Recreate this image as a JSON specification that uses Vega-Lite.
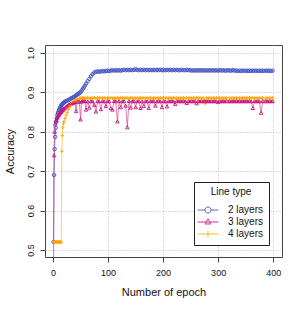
{
  "$schema": "https://vega.github.io/schema/vega-lite/v6.json",
  "width": 237,
  "height": 212,
  "autosize": "none",
  "padding": {"left": 45, "top": 45, "right": 23, "bottom": 57},
  "config": {
    "font": "Liberation Sans",
    "view": {"stroke": "#444444", "strokeWidth": 1}
  },
  "data": {"values": [
    {"e":1,"a":0.52,"b":0.40,"c":0.52},
    {"e":2,"a":0.69,"b":0.74,"c":0.52},
    {"e":3,"a":0.756,"b":0.80,"c":0.52},
    {"e":4,"a":0.787,"b":0.82,"c":0.52},
    {"e":5,"a":0.81,"b":0.826,"c":0.52},
    {"e":6,"a":0.825,"b":0.83,"c":0.52},
    {"e":7,"a":0.835,"b":0.834,"c":0.52},
    {"e":8,"a":0.842,"b":0.837,"c":0.52},
    {"e":9,"a":0.847,"b":0.84,"c":0.52},
    {"e":10,"a":0.851,"b":0.842,"c":0.52},
    {"e":11,"a":0.855,"b":0.844,"c":0.52},
    {"e":12,"a":0.858,"b":0.846,"c":0.52},
    {"e":13,"a":0.861,"b":0.848,"c":0.52},
    {"e":14,"a":0.864,"b":0.85,"c":0.52},
    {"e":15,"a":0.866,"b":0.851,"c":0.52},
    {"e":16,"a":0.868,"b":0.853,"c":0.75},
    {"e":17,"a":0.87,"b":0.855,"c":0.79},
    {"e":18,"a":0.872,"b":0.856,"c":0.81},
    {"e":19,"a":0.873,"b":0.858,"c":0.82},
    {"e":20,"a":0.874,"b":0.859,"c":0.826},
    {"e":22,"a":0.876,"b":0.861,"c":0.834},
    {"e":24,"a":0.878,"b":0.864,"c":0.842},
    {"e":26,"a":0.879,"b":0.866,"c":0.849},
    {"e":28,"a":0.88,"b":0.868,"c":0.856},
    {"e":30,"a":0.882,"b":0.869,"c":0.862},
    {"e":32,"a":0.884,"b":0.871,"c":0.867},
    {"e":34,"a":0.885,"b":0.872,"c":0.871},
    {"e":36,"a":0.887,"b":0.873,"c":0.875},
    {"e":38,"a":0.888,"b":0.874,"c":0.878},
    {"e":40,"a":0.89,"b":0.875,"c":0.88},
    {"e":42,"a":0.892,"b":0.852,"c":0.882},
    {"e":44,"a":0.894,"b":0.876,"c":0.883},
    {"e":46,"a":0.896,"b":0.877,"c":0.875},
    {"e":48,"a":0.898,"b":0.876,"c":0.885},
    {"e":50,"a":0.90,"b":0.831,"c":0.885},
    {"e":52,"a":0.904,"b":0.877,"c":0.885},
    {"e":54,"a":0.908,"b":0.878,"c":0.886},
    {"e":56,"a":0.912,"b":0.877,"c":0.885},
    {"e":58,"a":0.917,"b":0.878,"c":0.886},
    {"e":60,"a":0.922,"b":0.856,"c":0.885},
    {"e":63,"a":0.928,"b":0.877,"c":0.886},
    {"e":66,"a":0.934,"b":0.861,"c":0.885},
    {"e":69,"a":0.941,"b":0.878,"c":0.886},
    {"e":72,"a":0.946,"b":0.877,"c":0.885},
    {"e":75,"a":0.950,"b":0.868,"c":0.886},
    {"e":78,"a":0.952,"b":0.851,"c":0.885},
    {"e":81,"a":0.953,"b":0.878,"c":0.886},
    {"e":84,"a":0.952,"b":0.877,"c":0.885},
    {"e":87,"a":0.953,"b":0.857,"c":0.886},
    {"e":90,"a":0.954,"b":0.878,"c":0.885},
    {"e":93,"a":0.953,"b":0.877,"c":0.886},
    {"e":96,"a":0.954,"b":0.865,"c":0.885},
    {"e":99,"a":0.955,"b":0.878,"c":0.886},
    {"e":102,"a":0.954,"b":0.877,"c":0.885},
    {"e":105,"a":0.955,"b":0.86,"c":0.886},
    {"e":108,"a":0.956,"b":0.856,"c":0.885},
    {"e":111,"a":0.955,"b":0.878,"c":0.886},
    {"e":114,"a":0.956,"b":0.877,"c":0.885},
    {"e":117,"a":0.955,"b":0.826,"c":0.886},
    {"e":120,"a":0.956,"b":0.878,"c":0.885},
    {"e":123,"a":0.955,"b":0.862,"c":0.886},
    {"e":126,"a":0.956,"b":0.877,"c":0.885},
    {"e":129,"a":0.957,"b":0.878,"c":0.886},
    {"e":132,"a":0.956,"b":0.866,"c":0.885},
    {"e":135,"a":0.957,"b":0.811,"c":0.886},
    {"e":138,"a":0.956,"b":0.878,"c":0.885},
    {"e":141,"a":0.957,"b":0.861,"c":0.886},
    {"e":144,"a":0.956,"b":0.877,"c":0.885},
    {"e":147,"a":0.957,"b":0.878,"c":0.886},
    {"e":150,"a":0.958,"b":0.862,"c":0.885},
    {"e":153,"a":0.957,"b":0.877,"c":0.886},
    {"e":156,"a":0.956,"b":0.878,"c":0.885},
    {"e":159,"a":0.957,"b":0.86,"c":0.886},
    {"e":162,"a":0.956,"b":0.877,"c":0.885},
    {"e":165,"a":0.957,"b":0.865,"c":0.886},
    {"e":168,"a":0.956,"b":0.878,"c":0.885},
    {"e":171,"a":0.957,"b":0.877,"c":0.886},
    {"e":174,"a":0.956,"b":0.86,"c":0.885},
    {"e":177,"a":0.957,"b":0.878,"c":0.886},
    {"e":180,"a":0.956,"b":0.877,"c":0.885},
    {"e":183,"a":0.957,"b":0.878,"c":0.886},
    {"e":186,"a":0.956,"b":0.866,"c":0.885},
    {"e":189,"a":0.957,"b":0.877,"c":0.886},
    {"e":192,"a":0.956,"b":0.878,"c":0.885},
    {"e":195,"a":0.957,"b":0.877,"c":0.886},
    {"e":198,"a":0.956,"b":0.862,"c":0.885},
    {"e":201,"a":0.957,"b":0.878,"c":0.886},
    {"e":204,"a":0.956,"b":0.877,"c":0.885},
    {"e":207,"a":0.957,"b":0.864,"c":0.886},
    {"e":210,"a":0.956,"b":0.878,"c":0.885},
    {"e":213,"a":0.957,"b":0.877,"c":0.886},
    {"e":216,"a":0.956,"b":0.878,"c":0.885},
    {"e":219,"a":0.957,"b":0.877,"c":0.886},
    {"e":222,"a":0.956,"b":0.87,"c":0.885},
    {"e":225,"a":0.957,"b":0.878,"c":0.886},
    {"e":228,"a":0.956,"b":0.877,"c":0.885},
    {"e":231,"a":0.956,"b":0.878,"c":0.886},
    {"e":234,"a":0.957,"b":0.877,"c":0.885},
    {"e":237,"a":0.956,"b":0.878,"c":0.886},
    {"e":240,"a":0.956,"b":0.877,"c":0.885},
    {"e":243,"a":0.957,"b":0.873,"c":0.886},
    {"e":246,"a":0.956,"b":0.878,"c":0.885},
    {"e":249,"a":0.956,"b":0.877,"c":0.886},
    {"e":252,"a":0.955,"b":0.878,"c":0.885},
    {"e":255,"a":0.956,"b":0.877,"c":0.886},
    {"e":258,"a":0.955,"b":0.878,"c":0.885},
    {"e":261,"a":0.956,"b":0.872,"c":0.886},
    {"e":264,"a":0.955,"b":0.878,"c":0.885},
    {"e":267,"a":0.956,"b":0.877,"c":0.886},
    {"e":270,"a":0.955,"b":0.878,"c":0.885},
    {"e":273,"a":0.956,"b":0.877,"c":0.886},
    {"e":276,"a":0.955,"b":0.878,"c":0.871},
    {"e":279,"a":0.956,"b":0.877,"c":0.886},
    {"e":282,"a":0.955,"b":0.878,"c":0.885},
    {"e":285,"a":0.956,"b":0.877,"c":0.886},
    {"e":288,"a":0.955,"b":0.878,"c":0.885},
    {"e":291,"a":0.956,"b":0.877,"c":0.886},
    {"e":294,"a":0.955,"b":0.878,"c":0.885},
    {"e":297,"a":0.956,"b":0.877,"c":0.886},
    {"e":300,"a":0.955,"b":0.875,"c":0.885},
    {"e":303,"a":0.956,"b":0.878,"c":0.886},
    {"e":306,"a":0.955,"b":0.877,"c":0.885},
    {"e":309,"a":0.956,"b":0.878,"c":0.886},
    {"e":312,"a":0.955,"b":0.877,"c":0.885},
    {"e":315,"a":0.955,"b":0.878,"c":0.886},
    {"e":318,"a":0.956,"b":0.877,"c":0.876},
    {"e":321,"a":0.955,"b":0.878,"c":0.886},
    {"e":324,"a":0.955,"b":0.877,"c":0.885},
    {"e":327,"a":0.956,"b":0.878,"c":0.886},
    {"e":330,"a":0.955,"b":0.877,"c":0.885},
    {"e":333,"a":0.955,"b":0.878,"c":0.886},
    {"e":336,"a":0.954,"b":0.877,"c":0.885},
    {"e":339,"a":0.955,"b":0.878,"c":0.886},
    {"e":342,"a":0.954,"b":0.877,"c":0.885},
    {"e":345,"a":0.955,"b":0.878,"c":0.886},
    {"e":348,"a":0.954,"b":0.877,"c":0.885},
    {"e":351,"a":0.955,"b":0.878,"c":0.886},
    {"e":354,"a":0.954,"b":0.877,"c":0.885},
    {"e":357,"a":0.955,"b":0.878,"c":0.886},
    {"e":360,"a":0.954,"b":0.877,"c":0.885},
    {"e":363,"a":0.955,"b":0.86,"c":0.886},
    {"e":366,"a":0.954,"b":0.878,"c":0.885},
    {"e":369,"a":0.955,"b":0.877,"c":0.886},
    {"e":372,"a":0.954,"b":0.878,"c":0.885},
    {"e":375,"a":0.955,"b":0.877,"c":0.886},
    {"e":378,"a":0.954,"b":0.848,"c":0.885},
    {"e":381,"a":0.955,"b":0.878,"c":0.886},
    {"e":384,"a":0.954,"b":0.877,"c":0.877},
    {"e":387,"a":0.955,"b":0.878,"c":0.886},
    {"e":390,"a":0.954,"b":0.877,"c":0.885},
    {"e":393,"a":0.955,"b":0.878,"c":0.886},
    {"e":396,"a":0.954,"b":0.877,"c":0.885},
    {"e":399,"a":0.955,"b":0.878,"c":0.886}
  ]},
  "transform": [{"fold": ["a", "b", "c"], "as": ["s", "v"]}],
  "encoding": {
    "x": {
      "field": "e", "type": "quantitative",
      "scale": {"domain": [-14.5, 416], "nice": false, "zero": false},
      "axis": {
        "values": [0, 100, 200, 300, 400],
        "domain": false, "grid": true, "gridDash": [1, 2], "gridColor": "#bbbbbb",
        "tickSize": 5, "tickColor": "#444444", "labelColor": "#111111",
        "labelFontSize": 9, "labelPadding": 6,
        "title": "Number of epoch", "titleFontSize": 11, "titleFontWeight": "normal",
        "titleColor": "#111111", "titlePadding": 9
      }
    },
    "y": {
      "field": "v", "type": "quantitative",
      "scale": {"domain": [0.482, 1.02], "nice": false, "zero": false},
      "axis": {
        "values": [0.5, 0.6, 0.7, 0.8, 0.9, 1.0], "format": ".1f",
        "domain": false, "grid": true, "gridDash": [1, 2], "gridColor": "#bbbbbb",
        "tickSize": 5, "tickColor": "#444444", "labelColor": "#111111",
        "labelFontSize": 9, "labelPadding": 5, "labelAngle": -90,
        "labelAlign": "center", "labelBaseline": "bottom",
        "title": "Accuracy", "titleFontSize": 11, "titleFontWeight": "normal",
        "titleColor": "#111111", "titlePadding": 11
      }
    },
    "color": {
      "field": "s", "type": "nominal",
      "scale": {"domain": ["a", "b", "c"], "range": ["#3F51C0", "#C8147A", "#FFA500"]},
      "legend": {
        "title": "Line type",
        "orient": "none", "legendX": 149, "legendY": 137,
        "fillColor": "white", "strokeColor": "#222222",
        "padding": 5, "symbolOffset": 2,
        "titleAnchor": "middle", "titleFontSize": 10, "titleFontWeight": "normal", "titleColor": "#111111",
        "titlePadding": 6,
        "labelFontSize": 10, "labelColor": "#111111", "labelOffset": 13,
        "rowPadding": 0,
        "symbolSize": 169, "symbolStrokeWidth": 1, "symbolOpacity": 0.85,
        "labelExpr": "datum.value == 'a' ? '2 layers' : datum.value == 'b' ? '3 layers' : '4 layers'",
        "encoding": {
          "symbols": {
            "shape": {
              "condition": [
                {"test": "datum.value == 'a'", "value": "M-1.6,0H-0.46M0.46,0H1.6M0.46,0A0.46,0.46,0,1,1,-0.46,0A0.46,0.46,0,1,1,0.46,0"},
                {"test": "datum.value == 'b'", "value": "M-1.6,0H1.6M0,-0.5L0.46,0.3L-0.46,0.3Z"}
              ],
              "value": "M-1.6,0H1.6M0,-0.5V0.5"
            }
          }
        }
      }
    }
  },
  "layer": [
    {"mark": {"type": "line", "strokeWidth": 1, "opacity": 0.55, "clip": true}},
    {
      "mark": {"type": "point", "filled": false, "size": 12, "strokeWidth": 0.9, "opacity": 1, "clip": true},
      "encoding": {
        "shape": {
          "condition": [
            {"test": "datum.s == 'a'", "value": "circle"},
            {"test": "datum.s == 'b'", "value": "triangle-up"}
          ],
          "value": "M-1,0H1M0,-1V1"
        }
      }
    }
  ]
}
